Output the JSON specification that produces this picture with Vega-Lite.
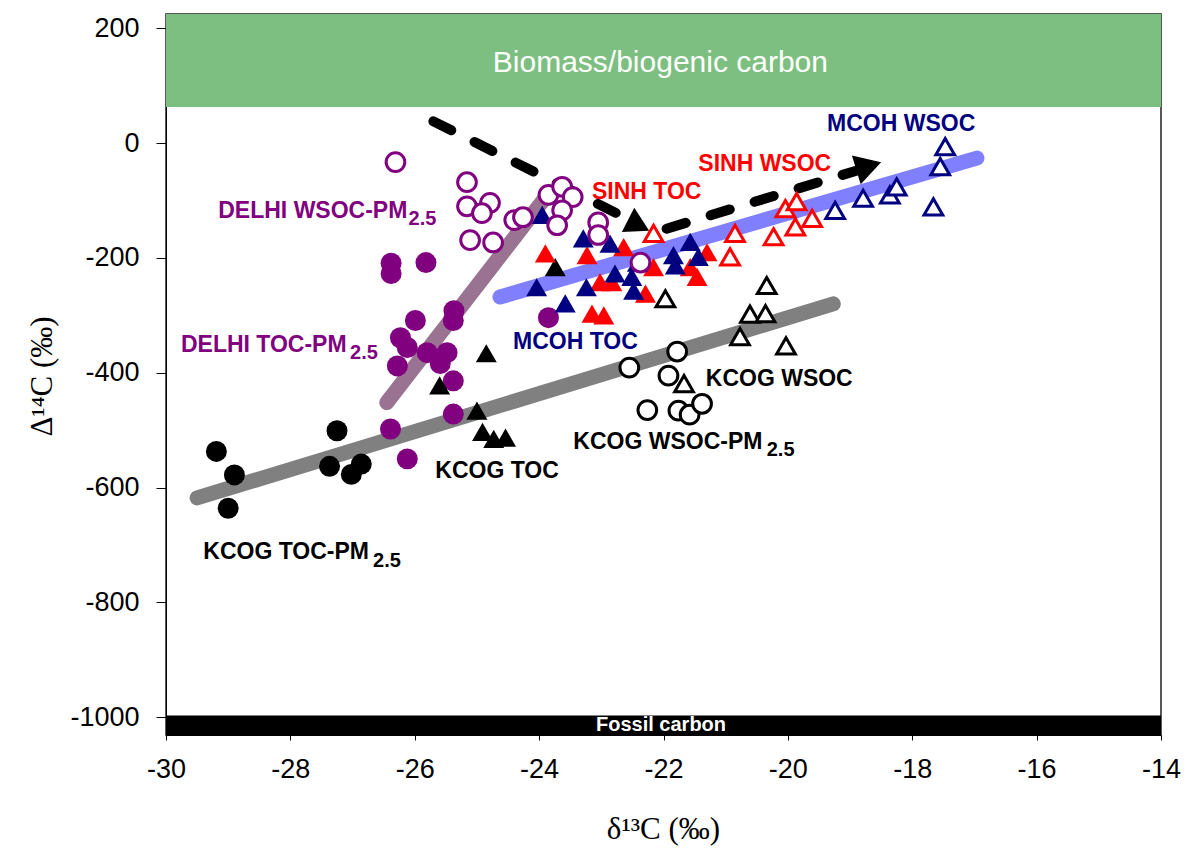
{
  "$schema": "https://vega.github.io/schema/vega-lite/v6.json",
  "autosize": "none",
  "padding": {"left": 166, "top": 14, "right": 23, "bottom": 114},
  "width": 995,
  "height": 721,
  "background": "white",
  "config": {
    "view": {"stroke": "#222222", "strokeWidth": 1.5},
    "axis": {
      "grid": false,
      "domainColor": "black",
      "tickColor": "black",
      "labelColor": "black",
      "labelFont": "Liberation Sans",
      "labelFontSize": 27,
      "titleFont": "Liberation Serif",
      "titleFontSize": 31,
      "titleFontWeight": "normal",
      "titleColor": "black"
    }
  },
  "resolve": {"scale": {"color": "independent", "fill": "independent", "stroke": "independent", "shape": "independent"}},
  "datasets": {
    "bands": [
      {"band": "Biomass/biogenic carbon", "x": -30, "x2": -14, "y": 63, "y2": 225},
      {"band": "Fossil carbon", "x": -30, "x2": -14, "y": -1031, "y2": -997}
    ],
    "bandtext": [
      {"band": "Biomass/biogenic carbon", "x": -22.05, "y": 140},
      {"band": "Fossil carbon", "x": -22.04, "y": -1013}
    ],
    "fits": [
      {"fit": "KCOG", "d13C": -29.5, "D14C": -618},
      {"fit": "KCOG", "d13C": -19.27, "D14C": -280},
      {"fit": "MCOH", "d13C": -24.63, "D14C": -268},
      {"fit": "MCOH", "d13C": -16.96, "D14C": -26},
      {"fit": "DELHI", "d13C": -26.45, "D14C": -452},
      {"fit": "DELHI", "d13C": -23.93, "D14C": -99}
    ],
    "arrows": [
      {"leg": 1, "d13C": -25.7, "D14C": 38},
      {"leg": 1, "d13C": -22.5, "D14C": -136},
      {"leg": 2, "d13C": -21.95, "D14C": -149},
      {"leg": 2, "d13C": -18.9, "D14C": -48}
    ],
    "heads": [
      {"leg": 1, "d13C": -22.4, "D14C": -143},
      {"leg": 2, "d13C": -18.7, "D14C": -40}
    ],
    "points": [
      {"series": "DELHI WSOC-PM2.5", "site": "DELHI", "frac": "WSOC", "d13C": -26.31, "D14C": -33},
      {"series": "DELHI WSOC-PM2.5", "site": "DELHI", "frac": "WSOC", "d13C": -25.16, "D14C": -68},
      {"series": "DELHI WSOC-PM2.5", "site": "DELHI", "frac": "WSOC", "d13C": -25.16, "D14C": -110},
      {"series": "DELHI WSOC-PM2.5", "site": "DELHI", "frac": "WSOC", "d13C": -24.79, "D14C": -104},
      {"series": "DELHI WSOC-PM2.5", "site": "DELHI", "frac": "WSOC", "d13C": -24.92, "D14C": -122},
      {"series": "DELHI WSOC-PM2.5", "site": "DELHI", "frac": "WSOC", "d13C": -25.11, "D14C": -169},
      {"series": "DELHI WSOC-PM2.5", "site": "DELHI", "frac": "WSOC", "d13C": -24.74, "D14C": -173},
      {"series": "DELHI WSOC-PM2.5", "site": "DELHI", "frac": "WSOC", "d13C": -24.4, "D14C": -134},
      {"series": "DELHI WSOC-PM2.5", "site": "DELHI", "frac": "WSOC", "d13C": -24.26, "D14C": -129},
      {"series": "DELHI WSOC-PM2.5", "site": "DELHI", "frac": "WSOC", "d13C": -23.85, "D14C": -90},
      {"series": "DELHI WSOC-PM2.5", "site": "DELHI", "frac": "WSOC", "d13C": -23.63, "D14C": -76},
      {"series": "DELHI WSOC-PM2.5", "site": "DELHI", "frac": "WSOC", "d13C": -23.46, "D14C": -94},
      {"series": "DELHI WSOC-PM2.5", "site": "DELHI", "frac": "WSOC", "d13C": -23.63, "D14C": -117},
      {"series": "DELHI WSOC-PM2.5", "site": "DELHI", "frac": "WSOC", "d13C": -23.71, "D14C": -143},
      {"series": "DELHI WSOC-PM2.5", "site": "DELHI", "frac": "WSOC", "d13C": -23.05, "D14C": -138},
      {"series": "DELHI WSOC-PM2.5", "site": "DELHI", "frac": "WSOC", "d13C": -23.05, "D14C": -160},
      {"series": "DELHI WSOC-PM2.5", "site": "DELHI", "frac": "WSOC", "d13C": -22.37, "D14C": -208},

      {"series": "DELHI TOC-PM2.5", "site": "DELHI", "frac": "TOC", "d13C": -26.38, "D14C": -209},
      {"series": "DELHI TOC-PM2.5", "site": "DELHI", "frac": "TOC", "d13C": -26.38, "D14C": -227},
      {"series": "DELHI TOC-PM2.5", "site": "DELHI", "frac": "TOC", "d13C": -25.82, "D14C": -208},
      {"series": "DELHI TOC-PM2.5", "site": "DELHI", "frac": "TOC", "d13C": -25.37, "D14C": -292},
      {"series": "DELHI TOC-PM2.5", "site": "DELHI", "frac": "TOC", "d13C": -25.38, "D14C": -309},
      {"series": "DELHI TOC-PM2.5", "site": "DELHI", "frac": "TOC", "d13C": -25.99, "D14C": -309},
      {"series": "DELHI TOC-PM2.5", "site": "DELHI", "frac": "TOC", "d13C": -26.23, "D14C": -339},
      {"series": "DELHI TOC-PM2.5", "site": "DELHI", "frac": "TOC", "d13C": -26.12, "D14C": -356},
      {"series": "DELHI TOC-PM2.5", "site": "DELHI", "frac": "TOC", "d13C": -26.28, "D14C": -388},
      {"series": "DELHI TOC-PM2.5", "site": "DELHI", "frac": "TOC", "d13C": -25.8, "D14C": -365},
      {"series": "DELHI TOC-PM2.5", "site": "DELHI", "frac": "TOC", "d13C": -25.48, "D14C": -365},
      {"series": "DELHI TOC-PM2.5", "site": "DELHI", "frac": "TOC", "d13C": -25.59, "D14C": -384},
      {"series": "DELHI TOC-PM2.5", "site": "DELHI", "frac": "TOC", "d13C": -25.38, "D14C": -414},
      {"series": "DELHI TOC-PM2.5", "site": "DELHI", "frac": "TOC", "d13C": -23.85, "D14C": -304},
      {"series": "DELHI TOC-PM2.5", "site": "DELHI", "frac": "TOC", "d13C": -26.39, "D14C": -498},
      {"series": "DELHI TOC-PM2.5", "site": "DELHI", "frac": "TOC", "d13C": -26.12, "D14C": -550},
      {"series": "DELHI TOC-PM2.5", "site": "DELHI", "frac": "TOC", "d13C": -25.38, "D14C": -472},

      {"series": "KCOG TOC-PM2.5", "site": "KCOG", "frac": "TOC", "d13C": -29.19, "D14C": -537},
      {"series": "KCOG TOC-PM2.5", "site": "KCOG", "frac": "TOC", "d13C": -28.9, "D14C": -578},
      {"series": "KCOG TOC-PM2.5", "site": "KCOG", "frac": "TOC", "d13C": -29.0, "D14C": -636},
      {"series": "KCOG TOC-PM2.5", "site": "KCOG", "frac": "TOC", "d13C": -27.25, "D14C": -501},
      {"series": "KCOG TOC-PM2.5", "site": "KCOG", "frac": "TOC", "d13C": -27.37, "D14C": -563},
      {"series": "KCOG TOC-PM2.5", "site": "KCOG", "frac": "TOC", "d13C": -27.02, "D14C": -577},
      {"series": "KCOG TOC-PM2.5", "site": "KCOG", "frac": "TOC", "d13C": -26.86, "D14C": -559},

      {"series": "KCOG TOC", "site": "KCOG", "frac": "TOC", "d13C": -24.85, "D14C": -366},
      {"series": "KCOG TOC", "site": "KCOG", "frac": "TOC", "d13C": -25.6, "D14C": -422},
      {"series": "KCOG TOC", "site": "KCOG", "frac": "TOC", "d13C": -25.0, "D14C": -466},
      {"series": "KCOG TOC", "site": "KCOG", "frac": "TOC", "d13C": -24.91, "D14C": -503},
      {"series": "KCOG TOC", "site": "KCOG", "frac": "TOC", "d13C": -24.73, "D14C": -515},
      {"series": "KCOG TOC", "site": "KCOG", "frac": "TOC", "d13C": -24.54, "D14C": -513},
      {"series": "KCOG TOC", "site": "KCOG", "frac": "TOC", "d13C": -23.74, "D14C": -216},

      {"series": "SINH TOC", "site": "SINH", "frac": "TOC", "d13C": -23.9, "D14C": -192},
      {"series": "SINH TOC", "site": "SINH", "frac": "TOC", "d13C": -23.23, "D14C": -195},
      {"series": "SINH TOC", "site": "SINH", "frac": "TOC", "d13C": -22.64, "D14C": -181},
      {"series": "SINH TOC", "site": "SINH", "frac": "TOC", "d13C": -23.02, "D14C": -242},
      {"series": "SINH TOC", "site": "SINH", "frac": "TOC", "d13C": -23.15, "D14C": -297},
      {"series": "SINH TOC", "site": "SINH", "frac": "TOC", "d13C": -22.96, "D14C": -300},
      {"series": "SINH TOC", "site": "SINH", "frac": "TOC", "d13C": -22.16, "D14C": -216},
      {"series": "SINH TOC", "site": "SINH", "frac": "TOC", "d13C": -22.29, "D14C": -262},
      {"series": "SINH TOC", "site": "SINH", "frac": "TOC", "d13C": -21.46, "D14C": -233},
      {"series": "SINH TOC", "site": "SINH", "frac": "TOC", "d13C": -21.3, "D14C": -190},
      {"series": "SINH TOC", "site": "SINH", "frac": "TOC", "d13C": -22.83, "D14C": -242},
      {"series": "SINH TOC", "site": "SINH", "frac": "TOC", "d13C": -21.57, "D14C": -216},

      {"series": "MCOH TOC", "site": "MCOH", "frac": "TOC", "d13C": -23.95, "D14C": -125},
      {"series": "MCOH TOC", "site": "MCOH", "frac": "TOC", "d13C": -24.04, "D14C": -251},
      {"series": "MCOH TOC", "site": "MCOH", "frac": "TOC", "d13C": -23.58, "D14C": -279},
      {"series": "MCOH TOC", "site": "MCOH", "frac": "TOC", "d13C": -23.24, "D14C": -251},
      {"series": "MCOH TOC", "site": "MCOH", "frac": "TOC", "d13C": -23.29, "D14C": -166},
      {"series": "MCOH TOC", "site": "MCOH", "frac": "TOC", "d13C": -22.86, "D14C": -175},
      {"series": "MCOH TOC", "site": "MCOH", "frac": "TOC", "d13C": -22.78, "D14C": -227},
      {"series": "MCOH TOC", "site": "MCOH", "frac": "TOC", "d13C": -22.51, "D14C": -233},
      {"series": "MCOH TOC", "site": "MCOH", "frac": "TOC", "d13C": -22.48, "D14C": -257},
      {"series": "MCOH TOC", "site": "MCOH", "frac": "TOC", "d13C": -22.42, "D14C": -208},
      {"series": "MCOH TOC", "site": "MCOH", "frac": "TOC", "d13C": -21.84, "D14C": -195},
      {"series": "MCOH TOC", "site": "MCOH", "frac": "TOC", "d13C": -21.81, "D14C": -213},
      {"series": "MCOH TOC", "site": "MCOH", "frac": "TOC", "d13C": -21.57, "D14C": -172},
      {"series": "MCOH TOC", "site": "MCOH", "frac": "TOC", "d13C": -21.44, "D14C": -198},

      {"series": "KCOG WSOC", "site": "KCOG", "frac": "WSOC", "d13C": -20.34, "D14C": -248},
      {"series": "KCOG WSOC", "site": "KCOG", "frac": "WSOC", "d13C": -20.61, "D14C": -298},
      {"series": "KCOG WSOC", "site": "KCOG", "frac": "WSOC", "d13C": -20.36, "D14C": -297},
      {"series": "KCOG WSOC", "site": "KCOG", "frac": "WSOC", "d13C": -20.77, "D14C": -337},
      {"series": "KCOG WSOC", "site": "KCOG", "frac": "WSOC", "d13C": -20.03, "D14C": -353},
      {"series": "KCOG WSOC", "site": "KCOG", "frac": "WSOC", "d13C": -21.97, "D14C": -271},
      {"series": "KCOG WSOC", "site": "KCOG", "frac": "WSOC", "d13C": -21.67, "D14C": -419},

      {"series": "KCOG WSOC-PM2.5", "site": "KCOG", "frac": "WSOC", "d13C": -21.78, "D14C": -363},
      {"series": "KCOG WSOC-PM2.5", "site": "KCOG", "frac": "WSOC", "d13C": -22.55, "D14C": -391},
      {"series": "KCOG WSOC-PM2.5", "site": "KCOG", "frac": "WSOC", "d13C": -21.92, "D14C": -405},
      {"series": "KCOG WSOC-PM2.5", "site": "KCOG", "frac": "WSOC", "d13C": -22.26, "D14C": -465},
      {"series": "KCOG WSOC-PM2.5", "site": "KCOG", "frac": "WSOC", "d13C": -21.76, "D14C": -466},
      {"series": "KCOG WSOC-PM2.5", "site": "KCOG", "frac": "WSOC", "d13C": -21.58, "D14C": -473},
      {"series": "KCOG WSOC-PM2.5", "site": "KCOG", "frac": "WSOC", "d13C": -21.38, "D14C": -454},

      {"series": "SINH WSOC", "site": "SINH", "frac": "WSOC", "d13C": -22.16, "D14C": -157},
      {"series": "SINH WSOC", "site": "SINH", "frac": "WSOC", "d13C": -20.85, "D14C": -157},
      {"series": "SINH WSOC", "site": "SINH", "frac": "WSOC", "d13C": -20.93, "D14C": -198},
      {"series": "SINH WSOC", "site": "SINH", "frac": "WSOC", "d13C": -20.23, "D14C": -163},
      {"series": "SINH WSOC", "site": "SINH", "frac": "WSOC", "d13C": -20.04, "D14C": -114},
      {"series": "SINH WSOC", "site": "SINH", "frac": "WSOC", "d13C": -19.86, "D14C": -102},
      {"series": "SINH WSOC", "site": "SINH", "frac": "WSOC", "d13C": -19.61, "D14C": -131},
      {"series": "SINH WSOC", "site": "SINH", "frac": "WSOC", "d13C": -19.88, "D14C": -146},

      {"series": "MCOH WSOC", "site": "MCOH", "frac": "WSOC", "d13C": -19.24, "D14C": -117},
      {"series": "MCOH WSOC", "site": "MCOH", "frac": "WSOC", "d13C": -18.79, "D14C": -96},
      {"series": "MCOH WSOC", "site": "MCOH", "frac": "WSOC", "d13C": -18.36, "D14C": -90},
      {"series": "MCOH WSOC", "site": "MCOH", "frac": "WSOC", "d13C": -18.25, "D14C": -76},
      {"series": "MCOH WSOC", "site": "MCOH", "frac": "WSOC", "d13C": -17.66, "D14C": -111},
      {"series": "MCOH WSOC", "site": "MCOH", "frac": "WSOC", "d13C": -17.55, "D14C": -41},
      {"series": "MCOH WSOC", "site": "MCOH", "frac": "WSOC", "d13C": -17.47, "D14C": -6}
    ],
    "labels": [
      {"text": "DELHI WSOC-PM", "site": "DELHI", "x": -29.16, "y": -131},
      {"text": "DELHI TOC-PM", "site": "DELHI", "x": -29.76, "y": -363},
      {"text": "MCOH TOC", "site": "MCOH", "x": -24.42, "y": -358},
      {"text": "SINH TOC", "site": "SINH", "x": -23.15, "y": -97},
      {"text": "SINH WSOC", "site": "SINH", "x": -21.44, "y": -48},
      {"text": "MCOH WSOC", "site": "MCOH", "x": -19.37, "y": 22},
      {"text": "KCOG WSOC", "site": "KCOG", "x": -21.32, "y": -423},
      {"text": "KCOG WSOC-PM", "site": "KCOG", "x": -23.45, "y": -533},
      {"text": "KCOG TOC", "site": "KCOG", "x": -25.67, "y": -583},
      {"text": "KCOG TOC-PM", "site": "KCOG", "x": -29.4, "y": -725}
    ],
    "subs": [
      {"text": "2.5", "site": "DELHI", "x": -26.1, "y": -143},
      {"text": "2.5", "site": "DELHI", "x": -27.04, "y": -376},
      {"text": "2.5", "site": "KCOG", "x": -20.34, "y": -545},
      {"text": "2.5", "site": "KCOG", "x": -26.67, "y": -739}
    ]
  },
  "layer": [
    {
      "data": {"name": "bands"},
      "mark": {"type": "rect"},
      "encoding": {
        "x": {"field": "x", "type": "quantitative", "scale": {"domain": [-30, -14], "nice": false, "zero": false},
          "axis": {"values": [-30, -28, -26, -24, -22, -20, -18, -16, -14], "labelExpr": "'' + datum.value", "tickSize": 5, "labelPadding": 16, "labelFlush": false,
            "title": "δ¹³C (‰)", "titleX": 497, "titleY": 103, "titleAlign": "center", "titleBaseline": "alphabetic"}},
        "x2": {"field": "x2"},
        "y": {"field": "y", "type": "quantitative", "scale": {"domain": [-1031, 225], "nice": false, "zero": false},
          "axis": {"values": [-1000, -800, -600, -400, -200, 0, 200], "labelExpr": "'' + datum.value", "tickSize": 10, "labelPadding": 17, "labelFlush": false,
            "title": "Δ¹⁴C (‰)", "titleAngle": 270, "titleX": -115, "titleY": 362, "titleAlign": "center", "titleBaseline": "alphabetic"}},
        "y2": {"field": "y2"},
        "fill": {"field": "band", "type": "nominal", "legend": null,
          "scale": {"domain": ["Biomass/biogenic carbon", "Fossil carbon"], "range": ["#7dbf80", "#000000"]}}
      }
    },
    {
      "data": {"name": "bandtext"},
      "transform": [{"filter": "datum.band == 'Biomass/biogenic carbon'"}],
      "mark": {"type": "text", "color": "white", "font": "Liberation Sans", "fontSize": 30, "align": "center", "baseline": "middle"},
      "encoding": {
        "x": {"field": "x", "type": "quantitative"},
        "y": {"field": "y", "type": "quantitative"},
        "text": {"field": "band"}
      }
    },
    {
      "data": {"name": "bandtext"},
      "transform": [{"filter": "datum.band == 'Fossil carbon'"}],
      "mark": {"type": "text", "color": "white", "font": "Liberation Sans", "fontSize": 20, "fontWeight": "bold", "align": "center", "baseline": "middle"},
      "encoding": {
        "x": {"field": "x", "type": "quantitative"},
        "y": {"field": "y", "type": "quantitative"},
        "text": {"field": "band"}
      }
    },
    {
      "data": {"name": "fits"},
      "mark": {"type": "line", "strokeWidth": 15, "strokeCap": "round"},
      "encoding": {
        "x": {"field": "d13C", "type": "quantitative"},
        "y": {"field": "D14C", "type": "quantitative"},
        "color": {"field": "fit", "type": "nominal", "legend": null,
          "scale": {"domain": ["KCOG", "MCOH", "DELHI"], "range": ["#808080", "#8080ff", "#9a7392"]}}
      }
    },
    {
      "data": {"name": "arrows"},
      "mark": {"type": "line", "color": "black", "strokeWidth": 10, "strokeCap": "round", "strokeDash": [20, 26]},
      "encoding": {
        "x": {"field": "d13C", "type": "quantitative"},
        "y": {"field": "D14C", "type": "quantitative"},
        "detail": {"field": "leg", "type": "nominal"}
      }
    },
    {
      "data": {"name": "heads"},
      "transform": [{"filter": "datum.leg == 1"}],
      "mark": {"type": "point", "shape": "triangle-right", "filled": true, "color": "black", "opacity": 1, "size": 750, "angle": 27},
      "encoding": {
        "x": {"field": "d13C", "type": "quantitative"},
        "y": {"field": "D14C", "type": "quantitative"}
      }
    },
    {
      "data": {"name": "heads"},
      "transform": [{"filter": "datum.leg == 2"}],
      "mark": {"type": "point", "shape": "triangle-right", "filled": true, "color": "black", "opacity": 1, "size": 900, "angle": 343},
      "encoding": {
        "x": {"field": "d13C", "type": "quantitative"},
        "y": {"field": "D14C", "type": "quantitative"}
      }
    },
    {
      "data": {"name": "points"},
      "transform": [{"filter": "datum.frac == 'TOC'"}],
      "mark": {"type": "point", "filled": true, "opacity": 1, "size": 440},
      "encoding": {
        "x": {"field": "d13C", "type": "quantitative"},
        "y": {"field": "D14C", "type": "quantitative"},
        "fill": {"field": "site", "type": "nominal", "legend": null,
          "scale": {"domain": ["DELHI", "KCOG", "MCOH", "SINH"], "range": ["#800080", "#000000", "#000080", "#ff0000"]}},
        "shape": {"field": "series", "type": "nominal", "legend": null,
          "scale": {"domain": ["DELHI TOC-PM2.5", "DELHI WSOC-PM2.5", "KCOG TOC-PM2.5", "KCOG WSOC-PM2.5", "KCOG TOC", "KCOG WSOC", "MCOH TOC", "MCOH WSOC", "SINH TOC", "SINH WSOC"],
            "range": ["circle", "circle", "circle", "circle", "triangle-up", "triangle-up", "triangle-up", "triangle-up", "triangle-up", "triangle-up"]}}
      }
    },
    {
      "data": {"name": "points"},
      "transform": [{"filter": "datum.frac == 'WSOC'"}],
      "mark": {"type": "point", "filled": true, "fill": "white", "opacity": 1, "strokeWidth": 3, "size": 350},
      "encoding": {
        "x": {"field": "d13C", "type": "quantitative"},
        "y": {"field": "D14C", "type": "quantitative"},
        "stroke": {"field": "site", "type": "nominal", "legend": null,
          "scale": {"domain": ["DELHI", "KCOG", "MCOH", "SINH"], "range": ["#800080", "#000000", "#000080", "#ff0000"]}},
        "shape": {"field": "series", "type": "nominal", "legend": null,
          "scale": {"domain": ["DELHI TOC-PM2.5", "DELHI WSOC-PM2.5", "KCOG TOC-PM2.5", "KCOG WSOC-PM2.5", "KCOG TOC", "KCOG WSOC", "MCOH TOC", "MCOH WSOC", "SINH TOC", "SINH WSOC"],
            "range": ["circle", "circle", "circle", "circle", "triangle-up", "triangle-up", "triangle-up", "triangle-up", "triangle-up", "triangle-up"]}}
      }
    },
    {
      "data": {"name": "labels"},
      "mark": {"type": "text", "font": "Liberation Sans", "fontSize": 23, "fontWeight": "bold", "align": "left", "baseline": "alphabetic"},
      "encoding": {
        "x": {"field": "x", "type": "quantitative"},
        "y": {"field": "y", "type": "quantitative"},
        "text": {"field": "text"},
        "color": {"field": "site", "type": "nominal", "legend": null,
          "scale": {"domain": ["DELHI", "KCOG", "MCOH", "SINH"], "range": ["#800080", "#000000", "#000080", "#ff0000"]}}
      }
    },
    {
      "data": {"name": "subs"},
      "mark": {"type": "text", "font": "Liberation Sans", "fontSize": 20, "fontWeight": "bold", "align": "left", "baseline": "alphabetic"},
      "encoding": {
        "x": {"field": "x", "type": "quantitative"},
        "y": {"field": "y", "type": "quantitative"},
        "text": {"field": "text"},
        "color": {"field": "site", "type": "nominal", "legend": null,
          "scale": {"domain": ["DELHI", "KCOG", "MCOH", "SINH"], "range": ["#800080", "#000000", "#000080", "#ff0000"]}}
      }
    }
  ]
}
